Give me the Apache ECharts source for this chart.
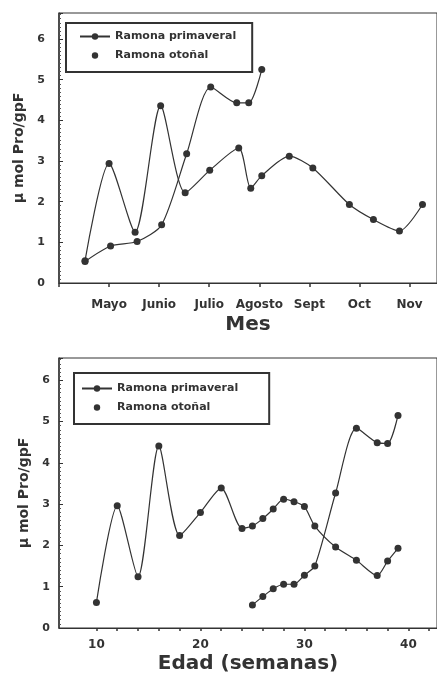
<!DOCTYPE html>
<html>
<head>
<meta charset="utf-8">
<script src="https://cdn.jsdelivr.net/npm/echarts@6/dist/echarts.min.js"></script>
<style>
  html, body { margin: 0; padding: 0; background: #fff; }
  #chart { width: 437px; height: 675px; }
</style>
</head>
<body>
<div id="chart"></div>
<script>
/* ---- Data ---- */
const SERIES_NAMES = ["Ramona primaveral", "Ramona otoñal"];
const Y_NAME = "μ mol Pro/gpF";

// top panel: x = month number (5 = Mayo)
const monthLabels = ["", "Mayo", "Junio", "Julio", "Agosto", "Sept", "Oct", "Nov"];
const mesA_x = [4.52, 5.0, 5.52, 6.03, 6.52, 7.01, 7.59, 7.83, 8.05, 8.6, 9.07, 9.8, 10.28, 10.8, 11.26];
const mesA_y = [0.55, 2.94, 1.25, 4.36, 2.22, 2.77, 3.32, 2.33, 2.64, 3.12, 2.83, 1.93, 1.56, 1.28, 1.93];
const mesB_x = [4.52, 5.03, 5.56, 6.05, 6.55, 7.03, 7.55, 7.79, 8.05];
const mesB_y = [0.53, 0.91, 1.02, 1.43, 3.18, 4.82, 4.43, 4.43, 5.25];

// bottom panel: x = age in weeks
const edadTicks = [10, 12, 14, 16, 18, 20, 22, 24, 26, 28, 30, 32, 34, 36, 38, 40, 42];
const edadLabels = [10, 20, 30, 40];
const edadA_x = [10, 12, 14, 16, 18, 20, 22, 24, 25, 26, 27, 28, 29, 30, 31, 33, 35, 37, 38, 39];
const edadA_y = [0.62, 2.96, 1.24, 4.41, 2.24, 2.8, 3.39, 2.41, 2.47, 2.65, 2.88, 3.12, 3.06, 2.94, 2.47, 1.96, 1.64, 1.27, 1.62, 1.93];
const edadB_x = [25, 26, 27, 28, 29, 30, 31, 33, 35, 37, 38, 39];
const edadB_y = [0.56, 0.76, 0.95, 1.06, 1.06, 1.28, 1.5, 3.27, 4.84, 4.49, 4.47, 5.15];

/* ---- Style ---- */
const INK = "#333";
const FONT = "DejaVu Sans";
const zip = (xs, ys) => xs.map((x, i) => [x, ys[i]]);

function lineSeries(name, xs, ys, idx) {
  return {
    name, type: "line", xAxisIndex: idx, yAxisIndex: idx,
    data: zip(xs, ys), smooth: 0.25,
    symbol: "circle", symbolSize: 7,
    lineStyle: { color: INK, width: 1.2 },
    itemStyle: { color: INK },
    emphasis: { disabled: true }
  };
}

function legend(left, top, padding, gap) {
  return {
    orient: "vertical", left, top, padding, itemGap: gap,
    itemWidth: 30, itemHeight: 8,
    borderColor: INK, borderWidth: 2,
    textStyle: { fontFamily: FONT, fontWeight: "bold", fontSize: 11, color: INK },
    data: [
      { name: SERIES_NAMES[0] },
      { name: SERIES_NAMES[1], lineStyle: { opacity: 0 } }
    ]
  };
}

function yAxis(idx, max, nameGap, labelMargin) {
  return {
    type: "value", gridIndex: idx, min: 0, max, interval: 1,
    name: Y_NAME, nameLocation: "middle", nameGap,
    nameTextStyle: { fontFamily: FONT, fontWeight: "bold", fontSize: 14, color: INK },
    axisLine: { show: true, lineStyle: { color: INK, width: 1.5 } },
    axisTick: { show: true, inside: true, length: 4, lineStyle: { color: INK } },
    minorTick: { show: true, splitNumber: 10, length: 2, lineStyle: { color: "#555" } },
    splitLine: { show: false },
    axisLabel: {
      margin: labelMargin, showMaxLabel: false,
      fontFamily: FONT, fontWeight: "bold", fontSize: 11, color: INK,
      formatter: v => Number.isInteger(v) ? String(v) : ""
    }
  };
}

const option = {
  animation: false,
  backgroundColor: "#fff",
  grid: [
    { left: 59, top: 13, right: -3, height: 270, show: true, borderColor: INK, borderWidth: 1 },
    { left: 59, top: 358, right: -3, height: 270, show: true, borderColor: INK, borderWidth: 1 }
  ],
  legend: [
    legend(66, 23, [8, 16, 11, 13], 8),
    legend(74, 373, [10, 31, 11, 7], 8)
  ],
  xAxis: [
    {
      type: "value", gridIndex: 0, min: 4, max: 11.55, interval: 1,
      name: "Mes", nameLocation: "middle", nameGap: 32,
      nameTextStyle: { fontFamily: FONT, fontWeight: "bold", fontSize: 20, color: INK },
      axisLine: { lineStyle: { color: INK, width: 1.2 } },
      axisTick: { length: 4, lineStyle: { color: INK, width: 1.5 } },
      splitLine: { show: false },
      axisLabel: {
        margin: 16, showMaxLabel: false,
        fontFamily: FONT, fontWeight: "bold", fontSize: 12, color: INK,
        formatter: v => monthLabels[Math.round(v) - 4] || ""
      }
    },
    {
      type: "value", gridIndex: 1, min: 6.4, max: 42.75,
      name: "Edad (semanas)", nameLocation: "middle", nameGap: 26,
      nameTextStyle: { fontFamily: FONT, fontWeight: "bold", fontSize: 20, color: INK },
      axisLine: { lineStyle: { color: INK, width: 1.2 } },
      axisTick: { length: 3, customValues: edadTicks, lineStyle: { color: INK, width: 1.5 } },
      splitLine: { show: false },
      axisLabel: {
        margin: 11, customValues: edadLabels,
        fontFamily: FONT, fontWeight: "bold", fontSize: 12, color: INK
      }
    }
  ],
  yAxis: [
    yAxis(0, 6.64, 30, 14),
    yAxis(1, 6.54, 27, 9)
  ],
  series: [
    lineSeries(SERIES_NAMES[0], mesA_x, mesA_y, 0),
    lineSeries(SERIES_NAMES[1], mesB_x, mesB_y, 0),
    lineSeries(SERIES_NAMES[0], edadA_x, edadA_y, 1),
    lineSeries(SERIES_NAMES[1], edadB_x, edadB_y, 1)
  ]
};

const chart = echarts.init(document.getElementById("chart"), null, { renderer: "canvas" });
chart.setOption(option);
</script>
</body>
</html>
